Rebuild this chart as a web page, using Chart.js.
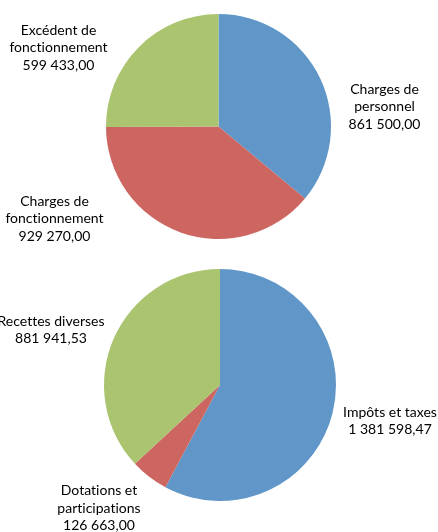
<!DOCTYPE html>
<html>
<head>
<meta charset="utf-8">
<script src="https://cdn.jsdelivr.net/npm/chart.js@4"></script>
<style>
  html, body { margin: 0; padding: 0; background: #fff; }
  #wrap { position: relative; width: 438px; height: 532px; overflow: hidden; }
  .box { position: absolute; left: 0; width: 438px; height: 266px; }
</style>
</head>
<body>
<div id="wrap">
  <div class="box" style="top:0"><canvas id="pieDepenses"></canvas></div>
  <div class="box" style="top:266px"><canvas id="pieRecettes"></canvas></div>
</div>
<script>
const DEP_LABELS = [['Charges de', 'personnel'], ['Charges de', 'fonctionnement'], ['Excédent de', 'fonctionnement']];
const DEP_VALUES = [861500.00, 929270.00, 599433.00];

const REC_LABELS = [['Impôts et taxes'], ['Dotations et', 'participations'], ['Recettes diverses']];
const REC_VALUES = [1381598.47, 126663.00, 881941.53];

const COLORS = ['#6196C9', '#CD6660', '#AAC46F'];

// where Excel put each label, relative to the pie centre (px)
const DEP_LABEL_POS = [[166, -20], [-164, 92], [-160, -79]];
const REC_LABEL_POS = [[170, 36], [-121, 123], [-169, -55]];

function fmt(v) {
    let parts = v.toFixed(2).split('.');
    let int = parts[0].replace(/\B(?=(\d{3})+(?!\d))/g, ' ');
    return int + ',' + parts[1];
}

const labelPlugin = {
    id: 'outLabels',
    afterDraw(chart, args, opts) {
        const ctx = chart.ctx;
        const arc = chart.getDatasetMeta(0).data[0];
        const cx = arc.x, cy = arc.y;
        const values = chart.data.datasets[0].data;
        ctx.save();
        ctx.font = '14px Lato';
        ctx.letterSpacing = '0.01px'; // stops the "ti" ligature
        ctx.fillStyle = '#000';
        ctx.textAlign = 'center';
        ctx.textBaseline = 'middle';
        opts.names.forEach((name, i) => {
            const lines = name.concat([fmt(values[i])]);
            const x = cx + opts.pos[i][0];
            const y0 = cy + opts.pos[i][1] - (lines.length - 1) * 17.5 / 2;
            lines.forEach((l, j) => ctx.fillText(l, x, y0 + j * 17.5));
        });
        ctx.restore();
    }
};

function makePie(el, names, values, pos, padding) {
    return new Chart(el, {
        type: 'pie',
        data: {
            labels: names.map(n => n.join(' ')),
            datasets: [{
                data: values,
                backgroundColor: COLORS,
                borderWidth: 0
            }]
        },
        options: {
            responsive: true,
            maintainAspectRatio: false,
            animation: false,
            layout: { padding: padding },
            plugins: {
                legend: { display: false },
                tooltip: { enabled: false },
                outLabels: { names: names, pos: pos }
            }
        },
        plugins: [labelPlugin]
    });
}

makePie(document.getElementById('pieDepenses'), DEP_LABELS, DEP_VALUES, DEP_LABEL_POS,
    { top: 14, bottom: 27, left: 106, right: 107 });
makePie(document.getElementById('pieRecettes'), REC_LABELS, REC_VALUES, REC_LABEL_POS,
    { top: 3, bottom: 31, left: 104, right: 102 });
</script>
</body>
</html>
